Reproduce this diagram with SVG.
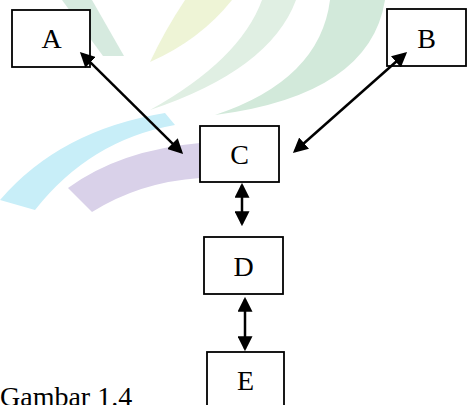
<svg xmlns="http://www.w3.org/2000/svg" width="467" height="405" viewBox="0 0 467 405">
<style>
.box{fill:#fff;stroke:#000;stroke-width:1.8}
.lbl{font-family:"Liberation Serif","Times New Roman",serif;font-size:28px;fill:#000;text-anchor:middle}
.con{stroke:#000;stroke-width:2.5;fill:none;marker-start:url(#ah);marker-end:url(#ah)}
</style>
<defs>
<marker id="ah" viewBox="0 0 14 14" refX="11.5" refY="7" markerWidth="15" markerHeight="15" markerUnits="userSpaceOnUse" orient="auto-start-reverse">
<path d="M0,0 L14,7 L0,14 Z" fill="#000"/>
</marker>
</defs>
<rect width="467" height="405" fill="#fff"/>
<g id="watermark">
<path d="M62,0 L92,0 L124,56 L103,56 Z" fill="#d6eadf"/>
<path d="M185,0 L232,0 Q200,40 150,62 Q165,30 185,0 Z" fill="#eef4d6"/>
<path d="M262,0 L296,0 Q270,70 150,110 Q240,60 262,0 Z" fill="#e0efe3"/>
<path d="M330,0 L385,0 Q370,95 215,115 Q320,80 330,0 Z" fill="#d2e9da"/>
<path d="M0,200 Q60,130 165,113 L175,125 Q90,140 35,210 Z" fill="#c8eef8"/>
<path d="M68,188 Q120,150 200,143 L200,178 Q140,182 92,212 Z" fill="#d9d1e9"/>
</g>
<g id="A"><rect class="box" x="12" y="10" width="78" height="57"/><text class="lbl" x="51.5" y="47.5">A</text></g>
<g id="B"><rect class="box" x="387" y="9" width="79" height="57"/><text class="lbl" x="426.5" y="47.5">B</text></g>
<g id="C"><rect class="box" x="200" y="126" width="79" height="56"/><text class="lbl" x="239.5" y="163.5">C</text></g>
<g id="D"><rect class="box" x="204" y="237" width="79" height="57"/><text class="lbl" x="243.5" y="276">D</text></g>
<g id="E"><rect class="box" x="207" y="352" width="77" height="60"/><text class="lbl" x="245.5" y="390">E</text></g>
<g id="connectors">
<line class="con" x1="81.8" y1="53.8" x2="181.2" y2="152.2"/>
<line class="con" x1="405.1" y1="53.7" x2="294.9" y2="151.3"/>
<line class="con" x1="242" y1="185.5" x2="242" y2="223.5"/>
<line class="con" x1="245" y1="299.5" x2="245" y2="348.5"/>
</g>
<text x="0" y="406" font-family="Liberation Serif, Times New Roman, serif" font-size="28" fill="#000">Gambar 1.4</text>
</svg>
